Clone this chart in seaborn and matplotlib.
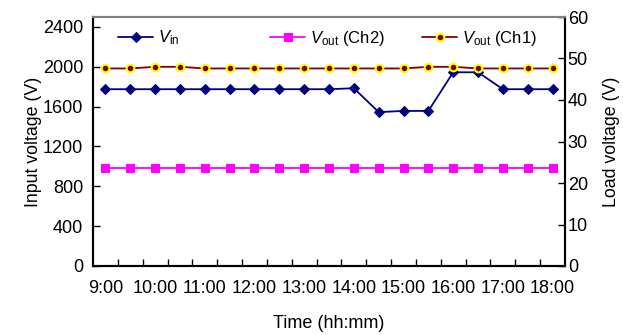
import matplotlib
matplotlib.use("Agg")
import matplotlib.pyplot as plt
import seaborn as sns
import pandas as pd
import numpy as np
from matplotlib.ticker import FixedLocator
from matplotlib.legend import Legend

times = ["9:00", "9:30", "10:00", "10:30", "11:00", "11:30", "12:00", "12:30", "13:00",
         "13:30", "14:00", "14:30", "15:00", "15:30", "16:00", "16:30", "17:00", "17:30", "18:00"]
v_in = [1775, 1775, 1775, 1775, 1775, 1775, 1775, 1775, 1775, 1775, 1785,
        1545, 1557, 1557, 1945, 1945, 1775, 1775, 1775]
v_out_ch2 = [23.6] * 19
v_out_ch1 = [47.6, 47.6, 48.0, 48.0, 47.6, 47.6, 47.6, 47.6, 47.6, 47.6, 47.6,
             47.6, 47.6, 48.0, 48.0, 47.6, 47.6, 47.6, 47.6]
tick_labels = ["9:00", "10:00", "11:00", "12:00", "13:00", "14:00", "15:00", "16:00", "17:00", "18:00"]

sns.set_theme(style="white")
plt.rcParams["font.family"] = ["Liberation Sans", "DejaVu Sans"]
plt.rcParams["mathtext.fontset"] = "custom"
plt.rcParams["mathtext.rm"] = "Liberation Sans"
plt.rcParams["mathtext.it"] = "Liberation Sans:italic"
plt.rcParams["text.color"] = "black"
plt.rcParams["axes.labelcolor"] = "black"

df = pd.DataFrame({"idx": np.arange(len(times)), "time": times,
                   "vin": v_in, "ch2": v_out_ch2, "ch1": v_out_ch1})

fig = plt.figure(figsize=(6.23, 3.35), dpi=100)
ax = fig.add_subplot(111)
fig.subplots_adjust(left=93/623, right=565/623, top=1-17/335, bottom=1-266/335)
ax2 = ax.twinx()

sns.lineplot(data=df, x="idx", y="vin", ax=ax, color="#000080", marker="D",
             markersize=5, markeredgecolor="#000080", linewidth=1.3,
             label=r"$V_{\rm in}$", legend=False)
sns.lineplot(data=df, x="idx", y="ch2", ax=ax2, color="#FF00FF", marker="s",
             markersize=5.2, markeredgecolor="#FF00FF", linewidth=1.3,
             label=r"$V_{\rm out}$ (Ch2)", legend=False)
sns.lineplot(data=df, x="idx", y="ch1", ax=ax2, color="#800000", marker="o",
             markersize=5.5, markerfacecolor="#800000", markeredgecolor="#FFFF00",
             markeredgewidth=1.5, linewidth=1.3,
             label=r"$V_{\rm out}$ (Ch1)", legend=False)

n = len(times)
ax.set_xlim(-0.5, n - 0.5)
ax.set_ylim(0, 2500)
ax2.set_ylim(0, 60)
ax.set_yticks([0, 400, 800, 1200, 1600, 2000, 2400])
ax2.set_yticks([0, 10, 20, 30, 40, 50, 60])

ax.set_xticks(np.arange(0, n, 2))
ax.set_xticklabels(tick_labels)
ax.xaxis.set_minor_locator(FixedLocator(np.arange(0.5, n - 1, 1.0)))
ax.tick_params(axis="x", which="major", length=0, pad=10, labelsize=13, colors="black")
ax.tick_params(axis="x", which="minor", direction="in", length=5, width=1, color="black", bottom=True)
ax.tick_params(axis="y", direction="in", length=5, width=1, labelsize=13, left=True, colors="black", pad=7)
ax2.tick_params(axis="y", direction="in", length=5, width=1, labelsize=13, right=True, colors="black", pad=2)

ax.set_xlabel("Time (hh:mm)", fontsize=13, labelpad=13)
ax.set_ylabel("Input voltage (V)", fontsize=12.8, labelpad=1)
ax2.set_ylabel("Load voltage (V)", fontsize=12.8, labelpad=11)

for a in (ax, ax2):
    for s in ["left", "right", "bottom"]:
        a.spines[s].set_color("black")
        a.spines[s].set_linewidth(1.5)
    a.spines["top"].set_color("#808080")
    a.spines["top"].set_linewidth(1.5)
    a.grid(False)

h1, l1 = ax.get_legend_handles_labels()
h2, l2 = ax2.get_legend_handles_labels()
handles = h1 + h2
labels = l1 + l2
xs = [(118 - 93) / 472, (270 - 93) / 472, (422 - 93) / 472]
yc = (266 - 38) / 249
for h, l, x0 in zip(handles, labels, xs):
    leg = Legend(ax2, [h], [l], loc="center left", bbox_to_anchor=(x0, yc),
                 frameon=False, fontsize=12, handlelength=2.1,
                 handletextpad=0.3, borderpad=0, borderaxespad=0)
    ax2.add_artist(leg)

fig.savefig("out.png", dpi=100)
